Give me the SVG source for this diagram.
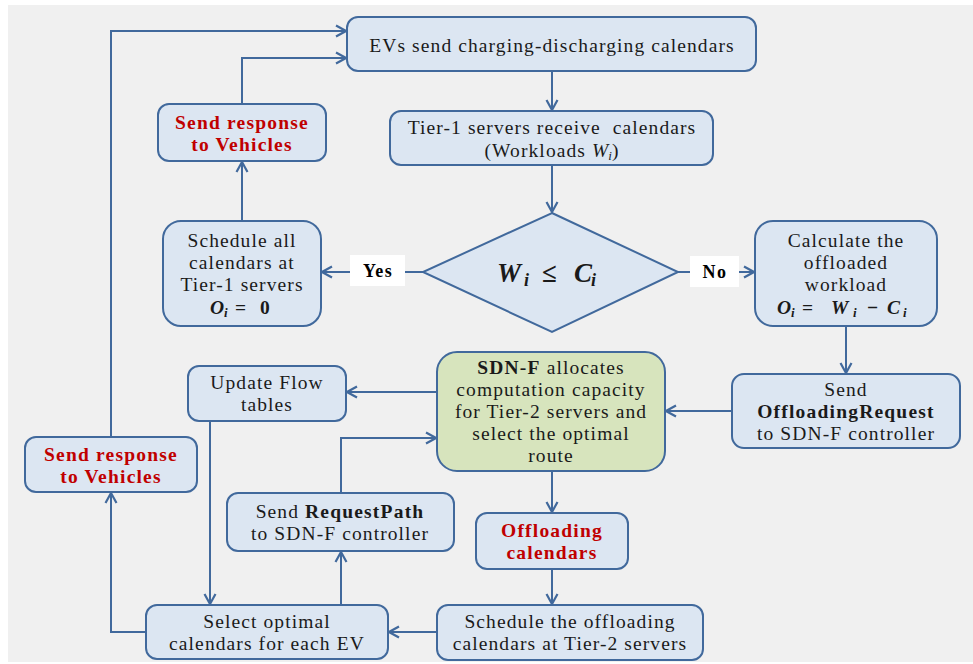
<svg xmlns="http://www.w3.org/2000/svg" width="973" height="664" viewBox="0 0 973 664">
<defs>
<style>
.bg{fill:#f0f0f0}
.box{fill:#dce6f2;stroke:#41699c;stroke-width:2}
.green{fill:#d7e4bd;stroke:#41699c;stroke-width:2}
.lbl{fill:#ffffff}
.c{fill:none;stroke:#41699c;stroke-width:2}
text{font-family:'Liberation Serif','DejaVu Serif',serif;font-size:19.5px;letter-spacing:1.1px;fill:#1a1a1a;text-anchor:middle}
.red{fill:#c00000;font-weight:bold;letter-spacing:1.2px}
.b{font-weight:bold;letter-spacing:1.2px}
.st{text-anchor:start;letter-spacing:0}
.m{font-weight:bold;font-style:italic;letter-spacing:0}
.sub{font-weight:bold;font-style:italic;font-size:13px;letter-spacing:0}
.big{font-size:27px;text-anchor:start;letter-spacing:0}
.bigsub{font-weight:bold;font-style:italic;font-size:18px}
.yn{font-weight:bold;font-size:18px;letter-spacing:1.4px;fill:#000}
</style>
<marker id="ar" markerUnits="userSpaceOnUse" markerWidth="14" markerHeight="14" refX="12" refY="7" orient="auto">
<path d="M2,1.5 L12,7 L2,12.5" fill="none" stroke="#41699c" stroke-width="2.2"/>
</marker>
</defs>
<rect class="bg" x="8" y="5" width="965" height="657"/>

<g id="connectors">
<path class="c" d="M552,71 V110" marker-end="url(#ar)"/>
<path class="c" d="M552,165 V212" marker-end="url(#ar)"/>
<path class="c" d="M423,272 H405"/>
<path class="c" d="M350,272 H322" marker-end="url(#ar)"/>
<path class="c" d="M678,272 H690"/>
<path class="c" d="M739,272 H754" marker-end="url(#ar)"/>
<path class="c" d="M242,221 V162" marker-end="url(#ar)"/>
<path class="c" d="M242,104 V58 H346" marker-end="url(#ar)"/>
<path class="c" d="M846,326 V373" marker-end="url(#ar)"/>
<path class="c" d="M732,411 H666" marker-end="url(#ar)"/>
<path class="c" d="M437,392 H347" marker-end="url(#ar)"/>
<path class="c" d="M210,421 V604" marker-end="url(#ar)"/>
<path class="c" d="M341,605 V552" marker-end="url(#ar)"/>
<path class="c" d="M341,493 V438 H436" marker-end="url(#ar)"/>
<path class="c" d="M552,471 V512" marker-end="url(#ar)"/>
<path class="c" d="M552,569 V604" marker-end="url(#ar)"/>
<path class="c" d="M437,632 H389" marker-end="url(#ar)"/>
<path class="c" d="M146,632 H111 V493" marker-end="url(#ar)"/>
<path class="c" d="M111,437 V31 H346" marker-end="url(#ar)"/>
</g>

<g id="n-evs">
<rect class="box" x="347" y="17" width="409" height="54" rx="11"/>
<text x="552" y="52">EVs send charging-discharging calendars</text>
</g>

<g id="n-tier1">
<rect class="box" x="390" y="111" width="323" height="54" rx="11"/>
<text x="552" y="134" xml:space="preserve">Tier-1 servers receive  calendars</text>
<text x="552" y="157">(Workloads <tspan font-style="italic" style="letter-spacing:0">W</tspan><tspan font-style="italic" style="font-size:13px;letter-spacing:0" dy="3">i</tspan><tspan dy="-3">)</tspan></text>
</g>

<g id="n-decision">
<polygon class="box" points="552,213 678,272 552,332 423,272"/>
<text class="big" y="282"><tspan class="m" x="497">W</tspan><tspan class="bigsub" x="524" dy="4">i</tspan><tspan class="b" x="542" dy="-4" style="letter-spacing:0">≤</tspan><tspan class="m" x="574">C</tspan><tspan class="bigsub" x="591" dy="4">i</tspan></text>
</g>

<g id="l-yes">
<rect class="lbl" x="350" y="255" width="55" height="31"/>
<text class="yn" x="378" y="277">Yes</text>
</g>

<g id="l-no">
<rect class="lbl" x="690" y="256" width="49" height="31"/>
<text class="yn" x="715" y="278">No</text>
</g>

<g id="n-schedule1">
<rect class="box" x="163" y="221" width="158" height="105" rx="18"/>
<text x="242" y="247">Schedule all</text>
<text x="242" y="269">calendars at</text>
<text x="242" y="291">Tier-1 servers</text>
<text class="st" y="314"><tspan class="m" x="210">O</tspan><tspan class="sub" x="224" dy="3">i</tspan><tspan class="b" x="235" dy="-3" style="letter-spacing:0">=</tspan><tspan class="b" x="260" style="letter-spacing:0">0</tspan></text>
</g>

<g id="n-calc">
<rect class="box" x="755" y="221" width="182" height="105" rx="18"/>
<text x="846" y="247">Calculate the</text>
<text x="846" y="269">offloaded</text>
<text x="846" y="291">workload</text>
<text class="st" y="314"><tspan class="m" x="777">O</tspan><tspan class="sub" x="791" dy="3">i</tspan><tspan class="b" x="802" dy="-3" style="letter-spacing:0">=</tspan><tspan class="m" x="831">W</tspan><tspan class="sub" x="853" dy="3">i</tspan><tspan class="b" x="867" dy="-3" style="letter-spacing:0">−</tspan><tspan class="m" x="887">C</tspan><tspan class="sub" x="903" dy="3">i</tspan></text>
</g>

<g id="n-resp1">
<rect class="box" x="158" y="104" width="168" height="57" rx="11"/>
<text class="red" x="242" y="129">Send response</text>
<text class="red" x="242" y="151">to Vehicles</text>
</g>

<g id="n-sdnf">
<rect class="green" x="437" y="352" width="228" height="119" rx="20"/>
<text x="551" y="374"><tspan class="b">SDN-F</tspan> allocates</text>
<text x="551" y="396">computation capacity</text>
<text x="551" y="418">for Tier-2 servers and</text>
<text x="551" y="440">select the optimal</text>
<text x="551" y="462">route</text>
</g>

<g id="n-offreq">
<rect class="box" x="732" y="374" width="228" height="74" rx="12"/>
<text x="846" y="396">Send</text>
<text class="b" x="846" y="418">OffloadingRequest</text>
<text x="846" y="440">to SDN-F controller</text>
</g>

<g id="n-flow">
<rect class="box" x="188" y="366" width="158" height="55" rx="11"/>
<text x="267" y="389">Update Flow</text>
<text x="267" y="411">tables</text>
</g>

<g id="n-resp2">
<rect class="box" x="25" y="437" width="172" height="55" rx="11"/>
<text class="red" x="111" y="461">Send response</text>
<text class="red" x="111" y="483">to Vehicles</text>
</g>

<g id="n-reqpath">
<rect class="box" x="227" y="493" width="227" height="58" rx="11"/>
<text x="340" y="518">Send <tspan class="b">RequestPath</tspan></text>
<text x="340" y="540">to SDN-F controller</text>
</g>

<g id="n-offcal">
<rect class="box" x="476" y="513" width="152" height="56" rx="11"/>
<text class="red" x="552" y="537">Offloading</text>
<text class="red" x="552" y="559">calendars</text>
</g>

<g id="n-select">
<rect class="box" x="146" y="605" width="242" height="54" rx="11"/>
<text x="267" y="628">Select optimal</text>
<text x="267" y="650">calendars for each EV</text>
</g>

<g id="n-schedule2">
<rect class="box" x="437" y="605" width="266" height="55" rx="11"/>
<text x="570" y="628">Schedule the offloading</text>
<text x="570" y="650">calendars at Tier-2 servers</text>
</g>
</svg>
